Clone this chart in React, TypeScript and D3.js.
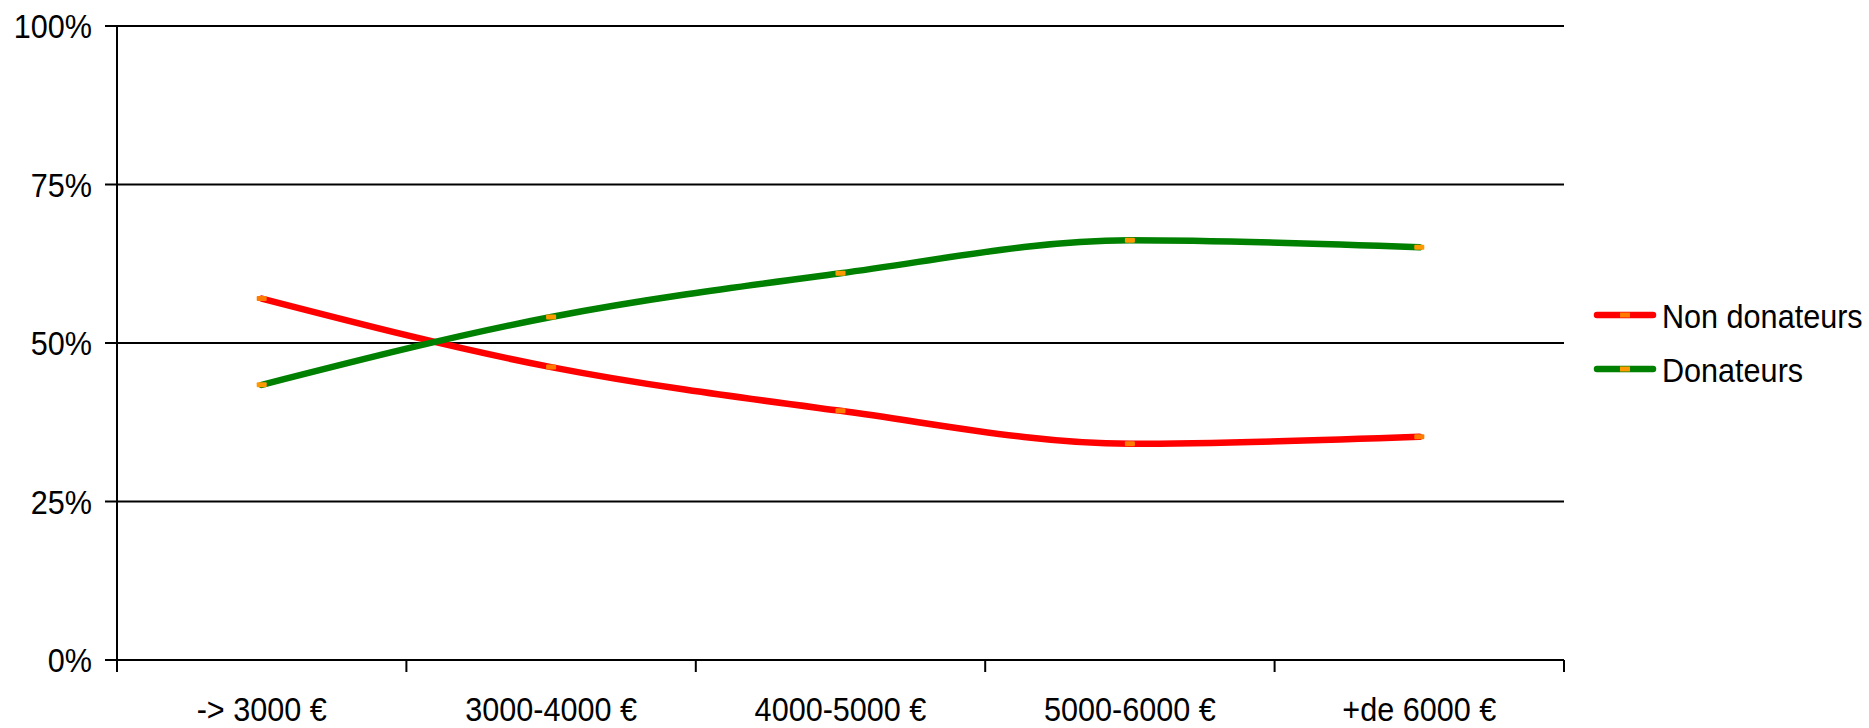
import React from "react";
import * as d3 from "d3";

const categories = ["-> 3000 €", "3000-4000 €", "4000-5000 €", "5000-6000 €", "+de 6000 €"];
const nonDonateurs = [0.57, 0.462, 0.393, 0.341, 0.352];
const donateurs = [0.434, 0.541, 0.61, 0.662, 0.651];
const yTicks = [0, 0.25, 0.5, 0.75, 1];
const yTickLabels = ["0%", "25%", "50%", "75%", "100%"];
const seriesNames = ["Non donateurs", "Donateurs"];

const W = 1869;
const H = 728;
const left = 117;
const right = 1564;
const top = 26;
const bottom = 660;
const FONT = "'Liberation Sans', Arial, sans-serif";
const FS = 34;
const SX = 0.9;

export default function App() {
  const x = d3.scaleBand<string>().domain(categories).range([left, right]).padding(0);
  const y = d3.scaleLinear().domain([0, 1]).range([bottom, top]);
  const cx = (i: number) => (x(categories[i]) as number) + x.bandwidth() / 2;
  const line = d3
    .line<number>()
    .x((_, i) => cx(i))
    .y((v) => y(v))
    .curve(d3.curveMonotoneX);

  const series = [
    { name: seriesNames[0], values: nonDonateurs, color: "#FF0000", marker: "#FF7A00" },
    { name: seriesNames[1], values: donateurs, color: "#008000", marker: "#FF9900" },
  ];

  const xTickPositions = [...categories.map((c) => x(c) as number), right];

  return (
    <svg
      width={W}
      height={H}
      style={{ position: "absolute", left: 0, top: 0, background: "#fff" }}
      fontFamily={FONT}
    >
      <rect x={0} y={0} width={W} height={H} fill="#fff" />
      {yTicks.map((t, i) => (
        <g key={"y" + i}>
          <line x1={left - 12} x2={right} y1={y(t)} y2={y(t)} stroke="#000" strokeWidth={2} />
          <text
            transform={`translate(${left - 25},${y(t) + 12}) scale(${SX},1)`}
            textAnchor="end"
            fontSize={FS}
            fill="#000"
          >
            {yTickLabels[i]}
          </text>
        </g>
      ))}
      <line x1={left} x2={left} y1={top} y2={bottom} stroke="#000" strokeWidth={2} />
      {xTickPositions.map((p, i) => (
        <line key={"xt" + i} x1={p} x2={p} y1={bottom} y2={bottom + 12} stroke="#000" strokeWidth={2} />
      ))}
      {categories.map((c, i) => (
        <text
          key={"xl" + i}
          transform={`translate(${cx(i)},${721}) scale(${SX},1)`}
          textAnchor="middle"
          fontSize={FS}
          fill="#000"
        >
          {c}
        </text>
      ))}
      {series.map((s) => (
        <g key={s.name}>
          <path d={line(s.values) || ""} fill="none" stroke={s.color} strokeWidth={6.5} strokeLinejoin="round" strokeLinecap="round" />
          {s.values.map((v, i) => (
            <rect key={i} x={cx(i) - 5} y={y(v) - 2.5} width={10} height={5} fill={s.marker} rx={1} />
          ))}
        </g>
      ))}
      {series.map((s, i) => {
        const ly = 315 + i * 54;
        return (
          <g key={"lg" + i}>
            <line x1={1597} x2={1653} y1={ly} y2={ly} stroke={s.color} strokeWidth={6.5} strokeLinecap="round" />
            <rect x={1620} y={ly - 2.5} width={10} height={5} fill={s.marker} />
            <text transform={`translate(${1662},${ly + 13}) scale(${SX},1)`} fontSize={FS} fill="#000">
              {s.name}
            </text>
          </g>
        );
      })}
    </svg>
  );
}
